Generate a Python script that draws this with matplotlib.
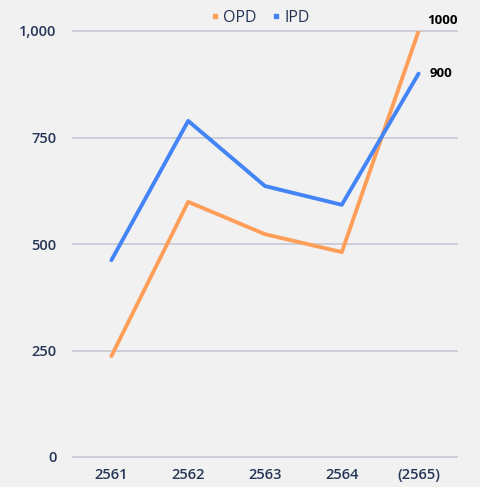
import matplotlib
matplotlib.use("Agg")
import matplotlib.pyplot as plt
from matplotlib.lines import Line2D

years = ["2561", "2562", "2563", "2564", "(2565)"]
opd = [237, 599, 523, 481, 1000]
ipd = [462, 789, 636, 592, 900]
yticks = [0, 250, 500, 750, 1000]
ytick_labels = ["0", "250", "500", "750", "1,000"]

BG = "#f1f1f1"
ORANGE = "#ff9e59"
BLUE = "#4384f6"
TEXT = "#263657"
GRID = "#c5c8d3"

plt.rcParams["font.family"] = ["Open Sans", "DejaVu Sans"]

fig = plt.figure(figsize=(4.8, 4.87), dpi=100, facecolor=BG)
ax = fig.add_axes([73 / 480, 1 - 457 / 487, 384 / 480, 426 / 487])
ax.set_facecolor(BG)

x = list(range(len(years)))
ax.plot(x, opd, color=ORANGE, linewidth=2.8, solid_capstyle="round", zorder=3)
ax.plot(x, ipd, color=BLUE, linewidth=2.8, solid_capstyle="round", zorder=3)

ax.set_xlim(-0.5, len(years) - 0.5)
ax.set_ylim(0, 1000)
ax.set_xticks(x)
ax.set_xticklabels(years, fontsize=10.5, color=TEXT, fontweight="semibold")
ax.set_yticks(yticks)
ax.set_yticklabels(ytick_labels, fontsize=10.5, color=TEXT, fontweight="semibold")
ax.tick_params(length=0)
ax.tick_params(axis="y", pad=12)
ax.tick_params(axis="x", pad=8)
ax.grid(axis="y", color=GRID, linewidth=1.2)
for gl in ax.get_ygridlines():
    gl.set_clip_on(False)
ax.set_axisbelow(True)
for s in ax.spines.values():
    s.set_visible(False)

ax.annotate(f"{opd[-1]}", (x[-1], opd[-1]), xytext=(6, 3), textcoords="offset points",
            fontsize=9.5, fontweight="bold", color="black", ha="left", va="bottom")
ax.annotate(f"{ipd[-1]}", (x[-1], ipd[-1]), xytext=(8, 0), textcoords="offset points",
            fontsize=9.5, fontweight="bold", color="black", ha="left", va="center")

handles = [Line2D([], [], marker="s", linestyle="", color=ORANGE, markersize=3.5),
           Line2D([], [], marker="s", linestyle="", color=BLUE, markersize=3.5)]
fig.legend(handles, ["OPD", "IPD"], loc="upper center", bbox_to_anchor=(0.54, 1.01),
           ncol=2, frameon=False, fontsize=11.5, labelcolor=TEXT, handletextpad=0.1,
           columnspacing=0.8, handlelength=0.8)

fig.savefig("out.png", dpi=100, facecolor=BG)
